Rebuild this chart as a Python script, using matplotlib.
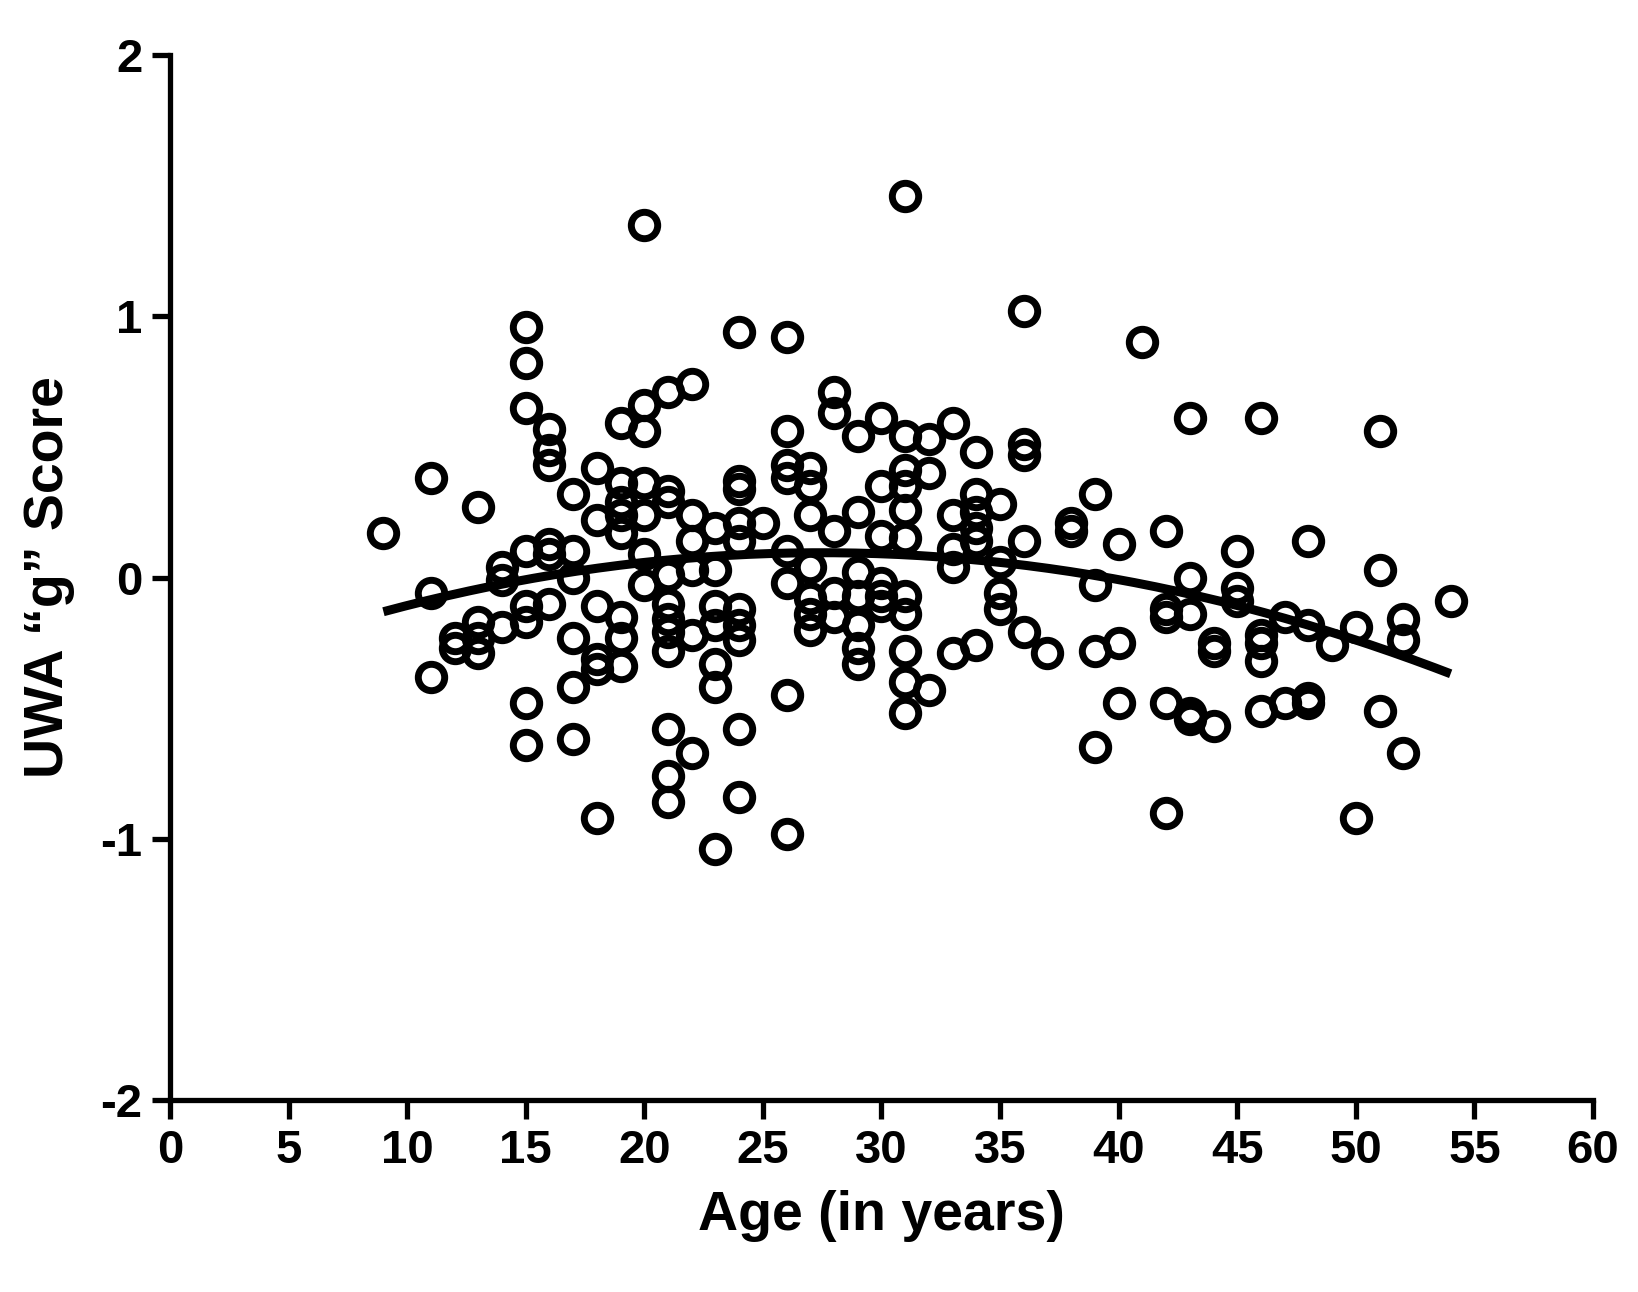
import numpy as np
import matplotlib
matplotlib.use('Agg')
import matplotlib.pyplot as plt

# age (years) -> list of UWA "g" scores
AGES = [9, 11, 12, 13, 14, 15, 16, 17, 18, 19, 20, 21, 22, 23, 24, 25, 26, 27,
        28, 29, 30, 31, 32, 33, 34, 35, 36, 37, 38, 39, 40, 41, 42, 43, 44,
        45, 46, 47, 48, 49, 50, 51, 52, 54]
SCORES = [
    [0.17],
    [0.38, -0.06, -0.38],
    [-0.23, -0.27],
    [0.27, -0.17, -0.23, -0.29],
    [0.04, -0.01, -0.19],
    [0.96, 0.82, 0.65, 0.10, -0.11, -0.17, -0.48, -0.64],
    [0.57, 0.49, 0.43, 0.13, 0.09, -0.10],
    [0.32, 0.10, 0.00, -0.23, -0.42, -0.62],
    [0.42, 0.22, -0.11, -0.31, -0.35, -0.92],
    [0.59, 0.36, 0.29, 0.24, 0.17, -0.15, -0.23, -0.34],
    [1.35, 0.66, 0.56, 0.36, 0.24, 0.09, -0.03],
    [0.71, 0.33, 0.29, 0.01, -0.10, -0.16, -0.21, -0.28, -0.58, -0.76, -0.86],
    [0.74, 0.24, 0.14, 0.03, -0.22, -0.67],
    [0.19, 0.03, -0.11, -0.18, -0.33, -0.42, -1.04],
    [0.94, 0.37, 0.34, 0.21, 0.14, -0.12, -0.18, -0.24, -0.58, -0.84],
    [0.21],
    [0.92, 0.56, 0.43, 0.38, 0.10, -0.02, -0.45, -0.98],
    [0.42, 0.35, 0.24, 0.04, -0.08, -0.14, -0.20],
    [0.71, 0.63, 0.18, -0.06, -0.15],
    [0.54, 0.25, 0.02, -0.07, -0.18, -0.27, -0.33],
    [0.61, 0.35, 0.16, -0.02, -0.07, -0.11],
    [1.46, 0.54, 0.41, 0.35, 0.26, 0.15, -0.07, -0.14, -0.28, -0.40, -0.52],
    [0.53, 0.40, -0.43],
    [0.59, 0.24, 0.11, 0.04, -0.29],
    [0.48, 0.32, 0.25, 0.19, 0.14, -0.26],
    [0.28, 0.06, -0.06, -0.12],
    [1.02, 0.51, 0.47, 0.14, -0.21],
    [-0.29],
    [0.21, 0.18],
    [0.32, -0.03, -0.28, -0.65],
    [0.13, -0.25, -0.48],
    [0.90],
    [0.18, -0.12, -0.15, -0.48, -0.90],
    [0.61, 0.00, -0.14, -0.52, -0.54],
    [-0.25, -0.28, -0.57],
    [0.10, -0.04, -0.09],
    [0.61, -0.22, -0.25, -0.32, -0.51],
    [-0.15, -0.48],
    [0.14, -0.18, -0.46, -0.48],
    [-0.26],
    [-0.19, -0.92],
    [0.56, 0.03, -0.51],
    [-0.16, -0.24, -0.67],
    [-0.09],
]
# quadratic trend: vertex age, peak score, curvature
FIT_VERTEX = 27.5
FIT_PEAK = 0.095
FIT_CURV = 0.00066

plt.rcParams['font.family'] = ['Liberation Sans', 'DejaVu Sans']
plt.rcParams['font.weight'] = 'bold'
plt.rcParams['axes.unicode_minus'] = False

x = np.concatenate([[a] * len(s) for a, s in zip(AGES, SCORES)])
y = np.concatenate(SCORES)

fig = plt.figure(figsize=(16.38, 12.92), dpi=100)
ax = fig.add_axes([0.1038, 0.1486, 0.9725 - 0.1038, 0.9574 - 0.1486])

ax.plot(x, y, 'o', ms=19, mfc='none', mec='black', mew=5, zorder=3)
xs = np.linspace(9, 54, 200)
ax.plot(xs, FIT_PEAK - FIT_CURV * (xs - FIT_VERTEX) ** 2, color='black', lw=6.5,
        solid_capstyle='butt', zorder=4)

ax.set_xlim(0, 60)
ax.set_ylim(-2, 2)
ax.set_xticks(np.arange(0, 61, 5))
ax.set_yticks([-2, -1, 0, 1, 2])
for side in ('top', 'right'):
    ax.spines[side].set_visible(False)
for side in ('left', 'bottom'):
    ax.spines[side].set_linewidth(3.8)
ax.tick_params(axis='both', width=3.8, length=13, labelsize=34, pad=7)
ax.tick_params(axis='x', length=14)
ax.set_xlabel('Age (in years)', fontsize=40, fontweight='bold', labelpad=12)
ax.set_ylabel('UWA \u201cg\u201d Score', fontsize=40, fontweight='bold', labelpad=18)

fig.savefig('out.png', dpi=100)
